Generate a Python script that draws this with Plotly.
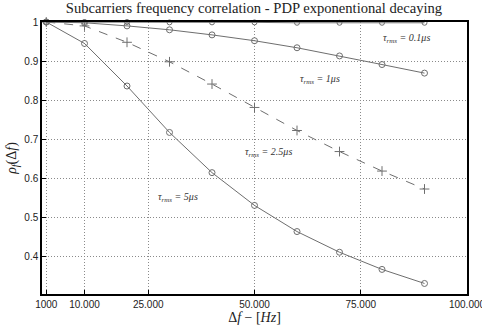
import plotly.graph_objects as go

freq = [1000, 10000, 20000, 30000, 40000, 50000, 60000, 70000, 80000, 90000]
rho_01 = [1.0, 1.0, 1.0, 0.999, 0.999, 0.999, 0.998, 0.998, 0.998, 0.998]
rho_1 = [1.0, 0.998, 0.990, 0.980, 0.967, 0.952, 0.934, 0.913, 0.891, 0.869]
rho_25 = [1.0, 0.990, 0.948, 0.898, 0.841, 0.781, 0.722, 0.668, 0.618, 0.572]
rho_5 = [1.0, 0.945, 0.836, 0.717, 0.614, 0.530, 0.463, 0.410, 0.366, 0.330]

xtick_vals = [1000, 10000, 25000, 50000, 75000, 100000]
xtick_text = ["1000", "10.000", "25.000", "50.000", "75.000", "100.000"]
ytick_vals = [0.4, 0.5, 0.6, 0.7, 0.8, 0.9, 1.0]
ytick_text = ["0.4", "0.5", "0.6", "0.7", "0.8", "0.9", "1"]

labels = ["τ<sub>rms</sub> = 0.1μs", "τ<sub>rms</sub> = 1μs",
          "τ<sub>rms</sub> = 2.5μs", "τ<sub>rms</sub> = 5μs"]
label_x = [85800, 65400, 53400, 31900]
label_y = [0.959, 0.853, 0.665, 0.550]

line_col = "#6e6e6e"

fig = go.Figure()
series = [(rho_01, "solid", "circle-open", 5), (rho_1, "solid", "circle-open", 6),
          (rho_25, "dash", "cross-thin", 7), (rho_5, "solid", "circle-open", 6)]
for ys, dash, sym, sz in series:
    fig.add_trace(go.Scatter(
        x=freq, y=ys, mode="lines+markers",
        line=dict(color=line_col, width=1, dash=dash),
        marker=dict(symbol=sym, size=sz, color=line_col,
                    line=dict(color=line_col, width=1)),
        cliponaxis=False, showlegend=False))

for t, lx, ly in zip(labels, label_x, label_y):
    fig.add_annotation(x=lx, y=ly, text="<i>" + t + "</i>", showarrow=False,
                       font=dict(family="Liberation Serif", size=10, color="#333"))

grid_dash = "1px,2px"
fig.update_layout(
    width=482, height=327,
    margin=dict(l=42, r=15, t=22, b=33, autoexpand=False),
    paper_bgcolor="white", plot_bgcolor="white",
    title=dict(text="Subcarriers frequency correlation - PDP exponentional decaying",
               x=0.527, xanchor="center", y=0.99, yanchor="top",
               font=dict(family="Liberation Serif", size=14.6, color="#222")),
    xaxis=dict(range=[0, 100000], tickvals=xtick_vals, ticktext=xtick_text,
               automargin=False,
               showline=True, linecolor="black", linewidth=1.5, mirror=True,
               ticks="inside", ticklen=4, tickcolor="black",
               ticklabeloverflow="allow",
               showgrid=True, gridcolor="#8a8a8a", griddash=grid_dash, gridwidth=1,
               zeroline=False,
               tickfont=dict(family="Liberation Sans", size=10, color="#222"),
               title=dict(text="Δ<i>f</i> − [<i>Hz</i>]", standoff=2,
                          font=dict(family="Liberation Serif", size=14, color="#222"))),
    yaxis=dict(range=[0.303, 1.0], tickvals=ytick_vals, ticktext=ytick_text,
               automargin=False,
               showline=True, linecolor="black", linewidth=1.5, mirror=True,
               ticks="inside", ticklen=4, tickcolor="black",
               showgrid=True, gridcolor="#8a8a8a", griddash=grid_dash, gridwidth=1,
               zeroline=False,
               tickfont=dict(family="Liberation Sans", size=10, color="#222"),
               title=dict(text="<i>ρ<sub>f</sub></i>(Δ<i>f</i>)", standoff=4,
                          font=dict(family="Liberation Serif", size=14, color="#222"))),
)

fig.write_html("out.html")
